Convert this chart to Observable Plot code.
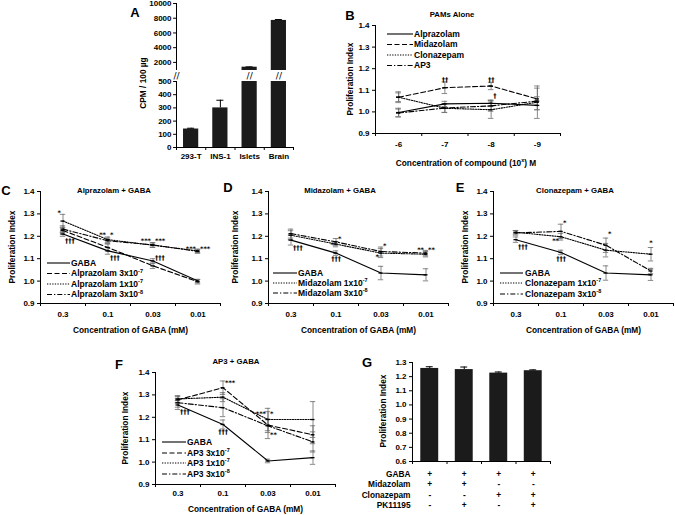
<!DOCTYPE html>
<html><head><meta charset="utf-8">
<script src="https://cdn.jsdelivr.net/npm/d3@7"></script>
<script src="https://cdn.jsdelivr.net/npm/@observablehq/plot@0.6"></script>
<style>
body{margin:0;background:#fff}
#fig{position:relative;width:675px;height:515px;font-family:"Liberation Sans",Arial,Helvetica,sans-serif;font-weight:bold;color:#000;overflow:hidden;background:#fff}
.abs{position:absolute;white-space:nowrap;line-height:1}
</style></head>
<body><div id="fig"></div>
<script>
// ---------- Panel A ----------
const aCategories = ["293-T", "INS-1", "Islets", "Brain"];
const aValues = [140, 300, 1350, 7700];
const aErrors = [6, 58, 40, 120];
const aTicksUpper = [2000, 4000, 6000, 8000, 10000];
const aTicksLower = [0, 100, 200, 300, 400, 500];
const aDomainUpper = [900, 10000];
const aDomainLower = [0, 500];

// ---------- shared ----------
const yTicksPI = [0.9, 1.0, 1.1, 1.2, 1.3, 1.4];
const yDomainPI = [0.9, 1.4];
const gabaLabels = ["0.3", "0.1", "0.03", "0.01"];

// ---------- Panel B ----------
const bLabels = ["-6", "-7", "-8", "-9"];
const bNames = ["Alprazolam", "Midazolam", "Clonazepam", "AP3"];
const bAlprazolam = [0.997, 1.037, 1.040, 1.030];
const bAlprazolamErr = [0.02, 0.012, 0.015, 0.02];
const bMidazolam = [1.068, 1.112, 1.120, 1.060];
const bMidazolamErr = [0.025, 0.027, 0.017, 0.05];
const bClonazepam = [1.068, 1.017, 1.010, 1.045];
const bClonazepamErr = [0.02, 0.02, 0.04, 0.075];
const bAP3 = [0.995, 1.018, 1.028, 1.050];
const bAP3Err = [0.018, 0.02, 0.025, 0.02];
const bAnnotations = [[1, 1.15, "††", "c"], [2, 1.15, "††", "c"], [2, 1.075, "†", "r"]];

// ---------- Panel C ----------
const cNames = ["GABA", "Alprazolam 3x10^-7", "Alprazolam 1x10^-7", "Alprazolam 3x10^-8"];
const cGABA = [1.21, 1.135, 1.09, 1.0];
const cGABAErr = [0.01, 0.015, 0.01, 0.008];
const cAlp3e7 = [1.226, 1.15, 1.068, 0.997];
const cAlp3e7Err = [0.015, 0.015, 0.012, 0.01];
const cAlp1e7 = [1.268, 1.185, 1.16, 1.135];
const cAlp1e7Err = [0.03, 0.012, 0.01, 0.008];
const cAlp3e8 = [1.232, 1.18, 1.162, 1.132];
const cAlp3e8Err = [0.015, 0.012, 0.01, 0.008];
const cAnnotations = [[0, 1.305, "*", "l"], [0, 1.18, "†††", "r"], [1, 1.205, "**", "l"], [1, 1.205, "*", "r"],
  [1, 1.105, "†††", "r"], [2, 1.178, "***", "l"], [2, 1.178, "***", "r"], [2, 1.105, "†††", "r"],
  [3, 1.145, "***", "l"], [3, 1.142, "***", "r"]];

// ---------- Panel D ----------
const dNames = ["GABA", "Midazolam 1x10^-7", "Midazolam 3x10^-8"];
const dGABA = [1.183, 1.125, 1.036, 1.028];
const dGABAErr = [0.022, 0.01, 0.03, 0.027];
const dMid1e7 = [1.205, 1.165, 1.125, 1.12];
const dMid1e7Err = [0.02, 0.012, 0.02, 0.012];
const dMid3e8 = [1.212, 1.175, 1.132, 1.125];
const dMid3e8Err = [0.02, 0.015, 0.02, 0.012];
const dAnnotations = [[0, 1.15, "†††", "r"], [1, 1.19, "*", "r"], [1, 1.16, "*", "l"], [1, 1.1, "†††", "c"],
  [2, 1.155, "*", "r"], [2, 1.11, "*", "l"], [3, 1.138, "**", "l"], [3, 1.138, "**", "r"]];

// ---------- Panel E ----------
const eNames = ["GABA", "Clonazepam 1x10^-7", "Clonazepam 3x10^-8"];
const eGABA = [1.185, 1.128, 1.036, 1.028];
const eGABAErr = [0.012, 0.01, 0.032, 0.025];
const eClo1e7 = [1.218, 1.198, 1.138, 1.12];
const eClo1e7Err = [0.008, 0.015, 0.03, 0.03];
const eClo3e8 = [1.215, 1.222, 1.16, 1.045];
const eClo3e8Err = [0.01, 0.032, 0.032, 0.012];
const eAnnotations = [[0, 1.152, "†††", "r"], [1, 1.18, "**", "l"], [1, 1.262, "*", "r"], [1, 1.1, "†††", "c"],
  [2, 1.212, "*", "r"], [3, 1.17, "*", "c"]];

// ---------- Panel F ----------
const fNames = ["GABA", "AP3 3x10^-7", "AP3 1x10^-7", "AP3 3x10^-8"];
const fGABA = [1.255, 1.168, 1.005, 1.02];
const fGABAErr = [0.02, 0.02, 0.008, 0.03];
const fAP3e7 = [1.278, 1.332, 1.165, 1.122];
const fAP3e7Err = [0.015, 0.03, 0.06, 0.04];
const fAP1e7 = [1.282, 1.29, 1.19, 1.19];
const fAP1e7Err = [0.015, 0.02, 0.05, 0.08];
const fAP3e8 = [1.265, 1.243, 1.162, 1.09];
const fAP3e8Err = [0.02, 0.04, 0.03, 0.045];
const fAnnotations = [[0, 1.222, "†††", "r"], [1, 1.355, "***", "r"], [1, 1.135, "†††", "c"],
  [2, 1.215, "***", "l"], [2, 1.215, "*", "r"], [2, 1.12, "**", "r"]];

// ---------- Panel G ----------
const gValues = [1.258, 1.25, 1.225, 1.242];
const gErrors = [0.012, 0.018, 0.008, 0.006];
const gTicks = [0.6, 0.7, 0.8, 0.9, 1.0, 1.1, 1.2, 1.3];
const gDomain = [0.6, 1.3];
const gRowNames = ["GABA", "Midazolam", "Clonazepam", "PK11195"];
const gGABA = ["+", "+", "+", "+"];
const gMidazolam = ["+", "+", "-", "-"];
const gClonazepam = ["-", "-", "+", "+"];
const gPK11195 = ["-", "+", "-", "+"];

// ---------- styling ----------
const fontFam = "'Liberation Sans', Arial, Helvetica, sans-serif";
const svgStyle = `font-family:${fontFam};font-weight:bold;font-size:8px;overflow:visible;background:transparent;color:#000`;
const annFont = "'DejaVu Sans', 'Liberation Sans', sans-serif";
const errColor = "#6a6a6a";
const barFill = "#1b1b1b";
const DASH = {solid: undefined, dashed: "5,2.5", dotted: "1.3,1.3", dashdot: "5,2,1.3,2"};

const fig = document.getElementById("fig");
function put(el, left, top) {
  el.style.position = "absolute"; el.style.left = left + "px"; el.style.top = top + "px";
  fig.appendChild(el);
}
function label(html, x, y, size, rotate) {
  const d = document.createElement("div");
  d.className = "abs";
  d.innerHTML = html;
  d.style.left = x + "px"; d.style.top = y + "px"; d.style.fontSize = size + "px";
  d.style.transform = "translate(-50%,-50%)" + (rotate ? ` rotate(${rotate}deg)` : "");
  fig.appendChild(d);
}
const fmt1 = d3.format(".1f");

function linePanel(p) {
  const M = {l: 45, r: 14, t: 16, b: 42};
  const n = p.labels.length;
  const rows = p.series.flatMap(s => s.values.map((v, i) => ({i, v, e: s.err[i]})));
  const cap = 0.06;
  const annMarks = ["l", "c", "r"].map(side => Plot.text(p.ann.filter(a => a[3] === side), {
    x: a => a[0], y: a => a[1], text: a => a[2],
    textAnchor: side === "l" ? "end" : side === "r" ? "start" : "middle",
    dx: side === "l" ? -2 : side === "r" ? 2 : 0, fontSize: 6.5, fontFamily: annFont, fill: "#000"
  }));
  const marks = [
    Plot.axisY({anchor: "left", ticks: yTicksPI, tickFormat: fmt1, tickSize: 3, tickPadding: 3, label: null}),
    Plot.axisX({anchor: "bottom", ticks: d3.range(n), tickFormat: i => p.labels[i], tickSize: 0, tickPadding: p.xPad, label: null}),
    Plot.axisX({anchor: "bottom", ticks: d3.range(n + 1).map(i => i - 0.5), tickFormat: () => "", tickSize: 3, label: null}),
    Plot.ruleX([-0.5], {stroke: "#000"}),
    Plot.ruleY([yDomainPI[0]], {stroke: "#000"}),
    Plot.ruleX(rows, {x: "i", y1: d => d.v - d.e, y2: d => d.v + d.e, stroke: errColor, strokeWidth: 0.8}),
    Plot.ruleY(rows, {y: d => d.v + d.e, x1: d => d.i - cap, x2: d => d.i + cap, stroke: errColor, strokeWidth: 0.8}),
    Plot.ruleY(rows, {y: d => d.v - d.e, x1: d => d.i - cap, x2: d => d.i + cap, stroke: errColor, strokeWidth: 0.8}),
    ...p.series.map(s => Plot.line(s.values, {x: (d, i) => i, y: d => d, stroke: "#000", strokeWidth: 1.1, strokeDasharray: s.dash})),
    Plot.ruleY(rows, {y: "v", x1: d => d.i - 0.045, x2: d => d.i + 0.045, stroke: "#000", strokeWidth: 1.3}),
    ...annMarks
  ];
  if (p.xlabel) marks.push(Plot.text([p.xlabel], {frameAnchor: "bottom", dy: p.xTitleDy, fontSize: 8.3}));
  const svg = Plot.plot({
    width: p.width + M.l + M.r, height: p.height + M.t + M.b,
    marginLeft: M.l, marginRight: M.r, marginTop: M.t, marginBottom: M.b,
    x: {type: "linear", domain: [-0.5, n - 0.5]},
    y: {type: "linear", domain: yDomainPI},
    style: svgStyle,
    marks
  });
  put(svg, p.left - M.l, p.top - M.t);
  label("Proliferation Index", p.left + p.yTitleDx, p.top + p.height / 2, 8.3, -90);
}

// ---------- Panel A (lower segment first, upper segment on top) ----------
const aLeft = 176, aLowerTop = 70;
(function () {
  const data = aValues.map((v, i) => ({i, v, e: aErrors[i]}));
  const hw = 0.26, cw = 0.12, tickLen = 0.1;
  const fw = 117;
  const broken = aValues.map((v, i) => v > aDomainLower[1] ? i : null).filter(d => d !== null);
  const lo = Plot.plot({
    width: fw + 55, height: 11 + 66 + 22, marginLeft: 45, marginRight: 10, marginTop: 11, marginBottom: 22,
    x: {type: "linear", domain: [-0.5, aCategories.length - 0.5]},
    y: {domain: aDomainLower, axis: null}, style: svgStyle,
    marks: [
      Plot.rectY(data, {x1: d => d.i - hw, x2: d => d.i + hw, y1: 0, y2: "v", fill: barFill, clip: true}),
      Plot.ruleX(data, {x: "i", y1: "v", y2: d => d.v + d.e, stroke: "#000", clip: true}),
      Plot.ruleY(data, {y: d => d.v + d.e, x1: d => d.i - cw, x2: d => d.i + cw, stroke: "#000", clip: true}),
      Plot.ruleX([-0.5], {stroke: "#000"}),
      Plot.ruleY([0], {stroke: "#000"}),
      Plot.text(aTicksLower, {y: d => d, x: -0.5, text: d3.format("d"), textAnchor: "end", dx: -5, fill: "#000", fontSize: 8}),
      Plot.ruleY(aTicksLower, {y: d => d, x1: -0.5 - tickLen, x2: -0.5, stroke: "#000"}),
      Plot.axisX({anchor: "bottom", ticks: d3.range(aCategories.length), tickFormat: i => aCategories[i], tickSize: 0, tickPadding: 6, label: null}),
      Plot.axisX({anchor: "bottom", ticks: d3.range(aCategories.length + 1).map(i => i - 0.5), tickFormat: () => "", tickSize: 3, label: null}),
      Plot.text([-0.5, ...broken], {x: d => d, y: 540, text: () => "//", fontSize: 9, fontWeight: "normal", fontFamily: annFont})
    ]
  });
  put(lo, aLeft - 45, aLowerTop);
  const up = Plot.plot({
    width: fw + 55, height: 3 + 67 + 1, marginLeft: 45, marginRight: 10, marginTop: 3, marginBottom: 1,
    x: {type: "linear", domain: [-0.5, aCategories.length - 0.5], axis: null},
    y: {domain: aDomainUpper, axis: null}, style: svgStyle,
    marks: [
      Plot.rectY(data, {x1: d => d.i - hw, x2: d => d.i + hw, y1: aDomainUpper[0], y2: "v", fill: barFill, clip: true}),
      Plot.ruleX(data, {x: "i", y1: "v", y2: d => d.v + d.e, stroke: "#000", clip: true}),
      Plot.ruleY(data, {y: d => d.v + d.e, x1: d => d.i - cw, x2: d => d.i + cw, stroke: "#000", clip: true}),
      Plot.ruleX([-0.5], {stroke: "#000"}),
      Plot.ruleY(aTicksUpper, {y: d => d, x1: -0.5 - tickLen, x2: -0.5, stroke: "#000"}),
      Plot.text(aTicksUpper, {y: d => d, x: -0.5, text: d3.format("d"), textAnchor: "end", dx: -5})
    ]
  });
  put(up, aLeft - 45, 0);
  label("A", 135, 12, 13);
})();

// ---------- Panel B ----------
linePanel({
  left: 375, top: 25, width: 185, height: 108, labels: bLabels,
  series: [
    {values: bAlprazolam, err: bAlprazolamErr, dash: DASH.solid},
    {values: bMidazolam, err: bMidazolamErr, dash: DASH.dashed},
    {values: bClonazepam, err: bClonazepamErr, dash: DASH.dotted},
    {values: bAP3, err: bAP3Err, dash: DASH.dashdot}
  ],
  ann: bAnnotations, xlabel: null, yTitleDx: -25, xPad: 8
});
label("B", 350, 15, 13);
label("PAMs Alone", 452, 15, 7.8);
label("Concentration of compound (10<sup style='font-size:5.5px'>x</sup>) M", 466, 163, 8.3);

// ---------- Panel C ----------
linePanel({
  left: 40, top: 191, width: 180, height: 112, labels: gabaLabels,
  series: [
    {values: cGABA, err: cGABAErr, dash: DASH.solid},
    {values: cAlp3e7, err: cAlp3e7Err, dash: DASH.dashed},
    {values: cAlp1e7, err: cAlp1e7Err, dash: DASH.dotted},
    {values: cAlp3e8, err: cAlp3e8Err, dash: DASH.dashdot}
  ],
  ann: cAnnotations, xlabel: "Concentration of GABA (mM)", yTitleDx: -28, xPad: 8, xTitleDy: 29
});
label("C", 6, 190, 13);
label("Alprazolam + GABA", 114, 191, 7.8);

// ---------- Panel D ----------
linePanel({
  left: 268, top: 191, width: 180, height: 112, labels: gabaLabels,
  series: [
    {values: dGABA, err: dGABAErr, dash: DASH.solid},
    {values: dMid1e7, err: dMid1e7Err, dash: DASH.dotted},
    {values: dMid3e8, err: dMid3e8Err, dash: DASH.dashdot}
  ],
  ann: dAnnotations, xlabel: "Concentration of GABA (mM)", yTitleDx: -33, xPad: 8, xTitleDy: 29
});
label("D", 228, 187, 13);
label("Midazolam + GABA", 340, 191, 7.8);

// ---------- Panel E ----------
linePanel({
  left: 493, top: 191, width: 180, height: 112, labels: gabaLabels,
  series: [
    {values: eGABA, err: eGABAErr, dash: DASH.solid},
    {values: eClo1e7, err: eClo1e7Err, dash: DASH.dotted},
    {values: eClo3e8, err: eClo3e8Err, dash: DASH.dashdot}
  ],
  ann: eAnnotations, xlabel: "Concentration of GABA (mM)", yTitleDx: -28, xPad: 8, xTitleDy: 29
});
label("E", 460, 187, 13);
label("Clonazepam + GABA", 575, 191, 7.8);

// ---------- Panel F ----------
linePanel({
  left: 155, top: 372, width: 180, height: 112, labels: gabaLabels,
  series: [
    {values: fGABA, err: fGABAErr, dash: DASH.solid},
    {values: fAP3e7, err: fAP3e7Err, dash: DASH.dashed},
    {values: fAP1e7, err: fAP1e7Err, dash: DASH.dotted},
    {values: fAP3e8, err: fAP3e8Err, dash: DASH.dashdot}
  ],
  ann: fAnnotations, xlabel: "Concentration of GABA (mM)", yTitleDx: -30, xPad: 6, xTitleDy: 27
});
label("F", 119, 364, 13);
label("AP3 + GABA", 236, 362, 7.8);

// ---------- Panel G ----------
(function () {
  const data = gValues.map((v, i) => ({i, v, e: gErrors[i]}));
  const n = gValues.length;
  const hw = 0.26, cw = 0.1;
  const M = {l: 45, r: 10, t: 8, b: 54};
  const rowsSigns = [gGABA, gMidazolam, gClonazepam, gPK11195];
  const rowDy = [15, 25, 36, 46];
  const signMarks = rowsSigns.map((arr, r) => Plot.text(arr, {x: (d, i) => i, text: d => d, frameAnchor: "bottom", dy: rowDy[r], fontSize: 8.3}));
  const nameMarks = gRowNames.map((nm, r) => Plot.text([nm], {x: () => -0.5, text: d => d, frameAnchor: "bottom", dy: rowDy[r], dx: -2, textAnchor: "end", fontSize: 8.3}));
  const svg = Plot.plot({
    width: 138 + M.l + M.r, height: 99 + M.t + M.b,
    marginLeft: M.l, marginRight: M.r, marginTop: M.t, marginBottom: M.b,
    x: {type: "linear", domain: [-0.5, n - 0.5]},
    y: {type: "linear", domain: gDomain},
    style: svgStyle,
    marks: [
      Plot.rectY(data, {x1: d => d.i - hw, x2: d => d.i + hw, y1: gDomain[0], y2: "v", fill: barFill}),
      Plot.ruleX(data, {x: "i", y1: "v", y2: d => d.v + d.e, stroke: "#000"}),
      Plot.ruleY(data, {y: d => d.v + d.e, x1: d => d.i - cw, x2: d => d.i + cw, stroke: "#000"}),
      Plot.ruleX([-0.5], {stroke: "#000"}),
      Plot.ruleY([gDomain[0]], {stroke: "#000"}),
      Plot.axisY({anchor: "left", ticks: gTicks, tickFormat: fmt1, tickSize: 3, tickPadding: 3, label: null}),
      Plot.axisX({anchor: "bottom", ticks: d3.range(n + 1).map(i => i - 0.5), tickFormat: () => "", tickSize: 3, label: null}),
      ...signMarks, ...nameMarks
    ]
  });
  put(svg, 412 - M.l, 362 - M.t);
  label("Proliferation Index", 383, 411, 8.3, -90);
  label("G", 367, 362, 13);
})();

// ---------- overlay: legends and A axis title ----------
const overlay = d3.select(fig).append("svg")
  .attr("width", 675).attr("height", 515)
  .style("position", "absolute").style("left", 0).style("top", 0)
  .style("font-family", fontFam).style("font-weight", "bold").style("overflow", "visible");
overlay.append("text").attr("transform", "translate(143,83) rotate(-90)").attr("text-anchor", "middle")
  .attr("dy", "0.35em").attr("font-size", 8.3).text("CPM / 100 µg");

function legend(names, dashes, x0, x1, tx, ys) {
  names.forEach((name, k) => {
    overlay.append("line").attr("x1", x0).attr("x2", x1).attr("y1", ys[k]).attr("y2", ys[k])
      .attr("stroke", "#000").attr("stroke-width", 1.1).attr("stroke-dasharray", dashes[k] || null);
    const [base, sup] = name.split("^");
    const t = overlay.append("text").attr("x", tx).attr("y", ys[k]).attr("dy", "0.35em").attr("font-size", 8.5).text(base);
    if (sup) t.append("tspan").attr("font-size", 5.5).attr("dy", "-0.7em").text(sup);
  });
}
legend(bNames, [DASH.solid, DASH.dashed, DASH.dotted, DASH.dashdot], 387, 413, 414, [34, 44.5, 55, 65.5]);
legend(cNames, [DASH.solid, DASH.dashed, DASH.dotted, DASH.dashdot], 47, 70, 71, [263, 273.5, 284, 294.5]);
legend(dNames, [DASH.solid, DASH.dotted, DASH.dashdot], 273, 297, 298, [273, 283, 293]);
legend(eNames, [DASH.solid, DASH.dotted, DASH.dashdot], 500, 523, 525, [273, 283, 294]);
legend(fNames, [DASH.solid, DASH.dashed, DASH.dotted, DASH.dashdot], 162, 186, 187, [442, 453, 463, 474]);
</script>
</body></html>
